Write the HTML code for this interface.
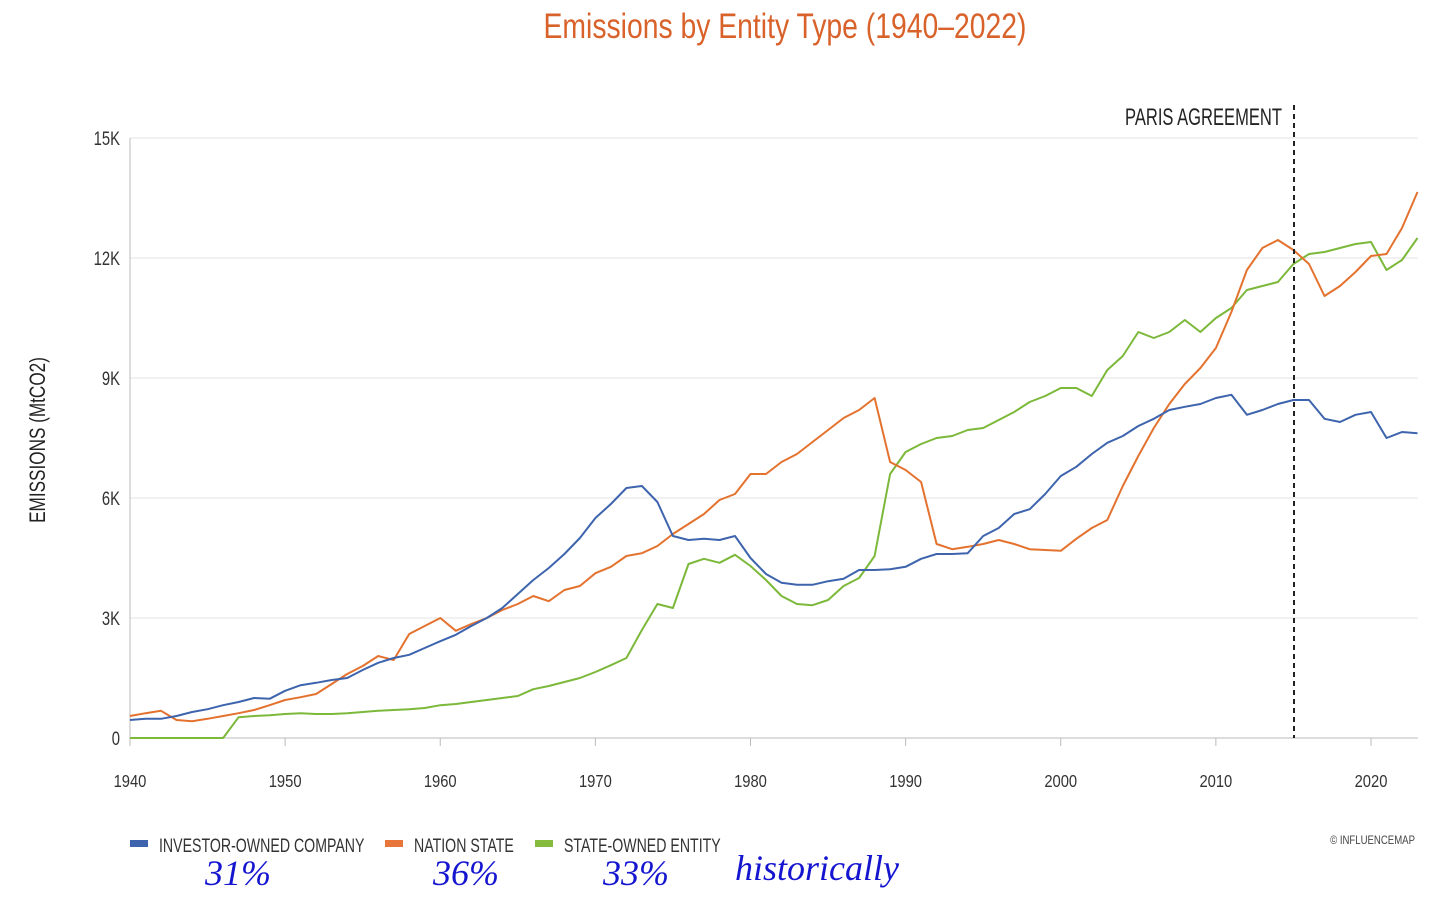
<!DOCTYPE html>
<html><head><meta charset="utf-8"><style>
html,body{margin:0;padding:0;background:#fff;}
svg{display:block;font-family:"Liberation Sans",sans-serif;}
</style></head><body>
<svg id="chart" width="1456" height="907">
<text x="785" y="38" text-anchor="middle" font-size="35" fill="#d9622b" transform="translate(785 0) scale(0.81 1) translate(-785 0)">Emissions by Entity Type (1940–2022)</text>
<g id="grid"></g><g id="axes"></g><g id="series"></g>
<text x="45" y="440" text-anchor="middle" font-size="22" fill="#222" transform="rotate(-90 45 440) translate(45 0) scale(0.78 1) translate(-45 0)">EMISSIONS (MtCO2)</text>
<line x1="1294" y1="105" x2="1294" y2="738" stroke="#222" stroke-width="2" stroke-dasharray="5,4"/>
<text x="1282" y="125" text-anchor="end" font-size="24" fill="#222" transform="translate(1282 0) scale(0.69 1) translate(-1282 0)">PARIS AGREEMENT</text>
<g>
<rect x="130" y="840" width="18" height="7" fill="#3d64ad"/>
<text x="159" y="852" font-size="19" fill="#333" transform="translate(159 0) scale(0.745 1) translate(-159 0)">INVESTOR-OWNED COMPANY</text>
<rect x="385" y="840" width="18" height="7" fill="#e8763a"/>
<text x="414" y="852" font-size="19" fill="#333" transform="translate(414 0) scale(0.745 1) translate(-414 0)">NATION STATE</text>
<rect x="535" y="840" width="18" height="7" fill="#84bb3c"/>
<text x="564" y="852" font-size="19" fill="#333" transform="translate(564 0) scale(0.745 1) translate(-564 0)">STATE-OWNED ENTITY</text>
</g>
<text x="1415" y="844" text-anchor="end" font-size="12" fill="#444" transform="translate(1415 0) scale(0.8 1) translate(-1415 0)">© INFLUENCEMAP</text>
<g font-family="'Liberation Serif',serif" font-style="italic" font-size="36" fill="#1515d0">
<text x="205" y="885">31%</text>
<text x="433" y="885">36%</text>
<text x="603" y="885">33%</text>
<text x="735" y="880">historically</text>
</g>
</svg>
<script>
const years = Array.from({length:84},(_, i)=>1940+i);
const investorOwned = [0.45,0.48,0.48,0.55,0.65,0.72,0.82,0.9,1.0,0.98,
1.18,1.32,1.38,1.45,1.5,1.7,1.88,2.0,2.08,2.25,
2.42,2.58,2.8,3.0,3.25,3.6,3.95,4.25,4.6,5.0,
5.5,5.85,6.25,6.3,5.9,5.05,4.95,4.98,4.95,5.05,
4.5,4.1,3.88,3.83,3.83,3.92,3.98,4.2,4.2,4.22,
4.28,4.48,4.6,4.6,4.62,5.05,5.25,5.6,5.72,6.1,6.55,6.78,7.1,7.38,7.55,7.8,7.98,8.2,8.28,8.35,8.5,8.58,8.08,8.2,8.35,8.45,8.45,7.98,7.9,8.08,8.15,7.5,7.65,7.62];
const nationState = [0.55,0.62,0.68,0.45,0.42,0.48,0.55,0.62,0.7,0.82,
0.95,1.02,1.1,1.35,1.6,1.8,2.05,1.95,2.6,2.8,
3.0,2.68,2.85,3.0,3.2,3.35,3.55,3.42,3.7,3.8,
4.12,4.28,4.55,4.62,4.8,5.1,5.35,5.6,5.95,6.1,
6.6,6.6,6.9,7.1,7.4,7.7,8.0,8.2,8.5,
6.9,6.7,6.4,4.85,4.72,4.78,4.85,4.95,4.85,4.72,4.7,4.68,
4.98,5.25,5.45,6.3,7.05,7.75,8.35,8.85,9.25,9.75,10.65,11.7,12.25,12.45,12.2,11.85,11.05,11.3,11.65,12.05,12.1,12.75,13.65];
const stateOwned = [0,0,0,0,0,0,0,0.52,0.55,0.57,
0.6,0.62,0.6,0.6,0.62,0.65,0.68,0.7,0.72,0.75,
0.82,0.85,0.9,0.95,1.0,1.05,1.22,1.3,1.4,1.5,
1.65,1.82,2.0,2.7,3.35,3.25,4.35,4.48,4.38,4.58,
4.3,3.95,3.55,3.35,3.32,3.45,3.8,4.0,4.55,6.6,
7.15,7.35,7.5,7.55,7.7,7.75,7.95,8.15,8.4,8.55,
8.75,8.75,8.55,9.2,9.55,10.15,10.0,10.15,10.45,10.15,
10.5,10.75,11.2,11.3,11.4,11.85,12.1,12.15,12.25,12.35,
12.4,11.7,11.95,12.5];
const yTicks = [0,3,6,9,12,15];
const yTickLabels = ["0","3K","6K","9K","12K","15K"];
const xTicks = [1940,1950,1960,1970,1980,1990,2000,2010,2020];

const NS="http://www.w3.org/2000/svg";
const X = y => 130 + (y-1940)*(1371-130)/80;
const Y = v => 738 - v*40;
function mk(tag, attrs, parent){const e=document.createElementNS(NS,tag);for(const k in attrs)e.setAttribute(k,attrs[k]);parent.appendChild(e);return e;}
const grid=document.getElementById('grid'), axes=document.getElementById('axes'), series=document.getElementById('series');
yTicks.forEach((t,i)=>{
  if(t>0){const g=mk('line',{x1:130,x2:1418,y1:Y(t),y2:Y(t),stroke:'#e3e3e3','stroke-width':1},grid);
  
  }
  const tx=mk('text',{x:120,y:Y(t)+7,'text-anchor':'end','font-size':19,fill:'#333',transform:`translate(120 0) scale(0.78 1) translate(-120 0)`},axes);
  tx.textContent=yTickLabels[i];
  
  
});
const ya=mk('line',{x1:130,x2:130,y1:138,y2:738,stroke:'#bbb','stroke-width':1},axes);


const xa=mk('line',{x1:130,x2:1418,y1:738,y2:738,stroke:'#bbb','stroke-width':1},axes);


xTicks.forEach(t=>{
  const tk=mk('line',{x1:X(t),x2:X(t),y1:738,y2:746,stroke:'#bbb'},axes);
  
  
  const tx=mk('text',{x:X(t),y:787,'text-anchor':'middle','font-size':18,fill:'#333',transform:`translate(${X(t)} 0) scale(0.82 1) translate(${-X(t)} 0)`},axes);
  tx.textContent=t;
  
  
});
function line(vals,color,name){
  const d=vals.map((v,i)=>(i?'L':'M')+X(years[i]).toFixed(1)+','+Y(v).toFixed(1)).join('');
  const p=mk('path',{d:d,fill:'none',stroke:color,'stroke-width':2,'stroke-linejoin':'round'},series);
  
  
}
line(stateOwned,'#7cb83a','state-owned-line');
line(nationState,'#e4722f','nation-state-line');
line(investorOwned,'#3d64ad','investor-owned-line');
</script>
</body></html>
